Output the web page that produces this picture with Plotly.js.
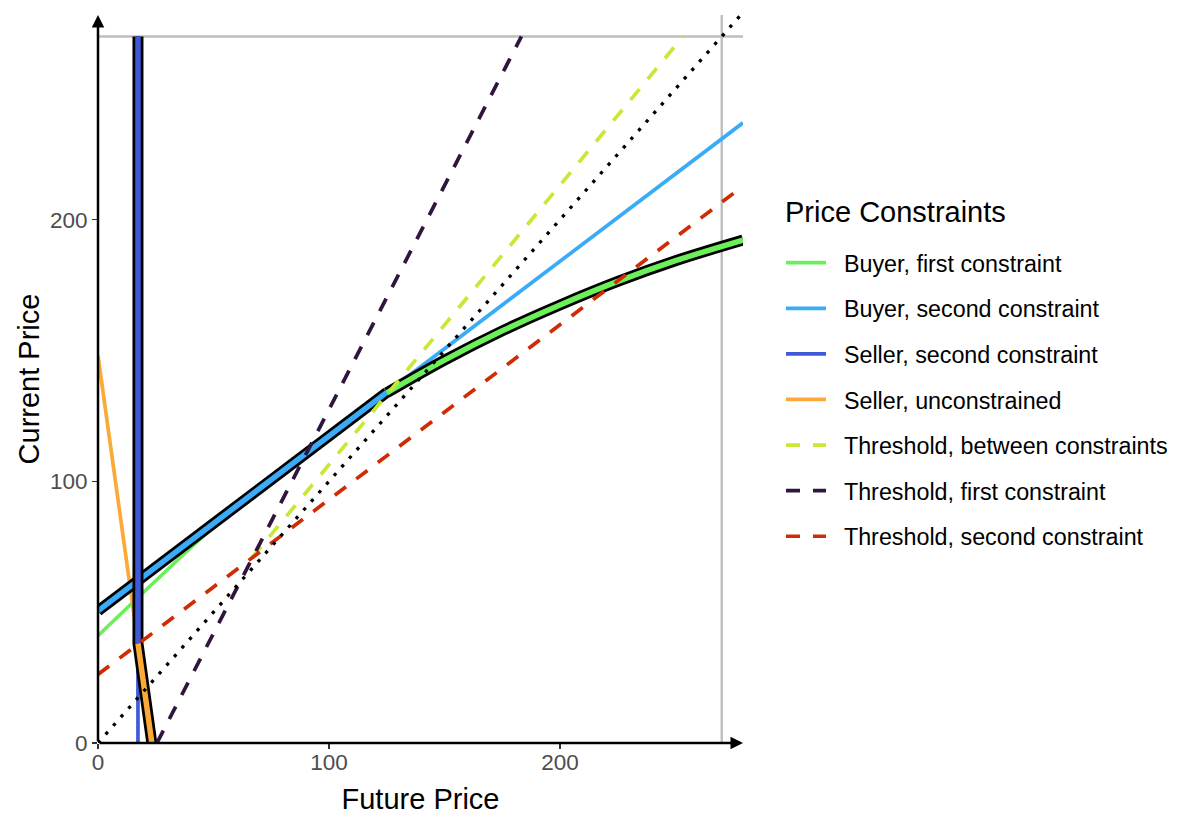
<!DOCTYPE html>
<html>
<head>
<meta charset="utf-8">
<script src="https://cdn.plot.ly/plotly-3.0.1.min.js"></script>
<style>html,body{margin:0;padding:0;background:#fff;}#chart{width:1181px;height:816px;}</style>
</head>
<body>
<div id="chart"></div>
<script>
// ---- data ----
const xMax = 279.2;
const yMax = 278.2;
const priceCap = 270;

const legendTitle = "Price Constraints";
const seriesNames = [
  "Buyer, first constraint",
  "Buyer, second constraint",
  "Seller, second constraint",
  "Seller, unconstrained",
  "Threshold, between constraints",
  "Threshold, first constraint",
  "Threshold, second constraint"
];
const seriesColors = ["#6CF05A", "#3AABF8", "#4059D6", "#FBAA38", "#C8E835", "#30153F", "#CF2B05"];

const buyerFirstX = [0, 25, 50, 75, 100, 125, 150, 175, 200, 225, 250, 279.2];
const buyerFirstY = [41, 62, 82.5, 100, 116.8, 133.8, 146.3, 157.5, 167.4, 176.4, 184.3, 192.2];

const buyerSecondX = [0, 279.2];
const buyerSecondY = [50.5, 237];

const sellerSecondX = [17.3, 17.3];
const sellerSecondY = [0, 270];

const sellerUnconX = [0, 23.3];
const sellerUnconY = [148, 0];

const thrBetweenX = [66.7, 253.2];
const thrBetweenY = [70.8, 270];

const thrFirstX = [25.5, 183.3];
const thrFirstY = [0, 270];

const thrSecondX = [0, 279.2];
const thrSecondY = [26.2, 212.8];

const diagX = [0, 279.2];
const diagY = [0, 279.2];

// highlighted (outlined) segments
const buyerOutBlueX = [0, 125];
const buyerOutBlueY = [50.5, 134];
const buyerOutGreenX = [125, 150, 175, 200, 225, 250, 279.2];
const buyerOutGreenY = [133.8, 146.3, 157.5, 167.4, 176.4, 184.3, 192.2];
const sellerOutBlueX = [17.3, 17.3];
const sellerOutBlueY = [270, 38.1];
const sellerOutOrangeX = [17.3, 23.3];
const sellerOutOrangeY = [38.1, 0];

const tickVals = [0, 100, 200];

// ---- traces ----
const baseW = 3.7, outW = 11, inW = 5.5;
const dashPat = "14px,13px";
const nameGap = "\u00A0\u00A0";
function line(x, y, color, width, opts) {
  return Object.assign({
    type: "scatter", mode: "lines", x: x, y: y,
    line: {color: color, width: width},
    hoverinfo: "skip", showlegend: false
  }, opts || {});
}
function legendLine(i, x, y) {
  return line(x, y, seriesColors[i], baseW, {showlegend: true, name: nameGap + seriesNames[i], legendgroup: "g" + i});
}

const gBase = legendLine(0, buyerFirstX, buyerFirstY); gBase.line.shape = "spline";
const gOutBlack = line(buyerOutGreenX, buyerOutGreenY, "#000000", outW); gOutBlack.line.shape = "spline";
const gOut = line(buyerOutGreenX, buyerOutGreenY, seriesColors[0], inW); gOut.line.shape = "spline";
const t1 = legendLine(4, thrBetweenX, thrBetweenY);
const t2 = legendLine(5, thrFirstX, thrFirstY);
const t3 = legendLine(6, thrSecondX, thrSecondY);
[t1, t2, t3].forEach(t => { t.line.dash = dashPat; });

const traces = [
  // gray cap lines
  line([0, xMax], [priceCap, priceCap], "#BEBEBE", 2.4),
  line([priceCap, priceCap], [0, yMax], "#BEBEBE", 2.4),
  // base constraint lines
  gBase,
  legendLine(1, buyerSecondX, buyerSecondY),
  legendLine(2, sellerSecondX, sellerSecondY),
  legendLine(3, sellerUnconX, sellerUnconY),
  // outlined segments
  line(buyerOutBlueX, buyerOutBlueY, "#000000", outW),
  gOutBlack,
  line(buyerOutBlueX, buyerOutBlueY, seriesColors[1], inW),
  gOut,
  line(sellerOutBlueX.concat(sellerOutOrangeX.slice(1)), sellerOutBlueY.concat(sellerOutOrangeY.slice(1)), "#000000", outW),
  line(sellerOutBlueX, sellerOutBlueY, seriesColors[2], inW),
  line(sellerOutOrangeX, sellerOutOrangeY, seriesColors[3], inW),
  // thresholds
  t1, t2, t3,
  // 45 degree line
  line(diagX, diagY, "#000000", 3.3, {line: {color: "#000000", width: 3.3, dash: "3.3px,8.2px"}})
];

const font = "Liberation Sans, Arial, Helvetica, sans-serif";

const layout = {
  width: 1181, height: 816,
  margin: {l: 98, r: 438, t: 15, b: 73, pad: 0, autoexpand: false},
  paper_bgcolor: "#ffffff", plot_bgcolor: "#ffffff",
  font: {family: font, color: "#000000"},
  showlegend: true,
  xaxis: {
    range: [0, xMax], tickvals: tickVals, ticks: "outside", ticklen: 5, tickwidth: 1.5, tickcolor: "#333333",
    tickfont: {size: 22.5, color: "#4D4D4D", family: font}, ticklabelstandoff: -6,
    showgrid: false, zeroline: false, showline: false, automargin: false,
    title: {text: "Future Price", font: {size: 29, color: "#000000", family: font}, standoff: 14}
  },
  yaxis: {
    range: [0, yMax], tickvals: tickVals, ticks: "outside", ticklen: 5, tickwidth: 1.5, tickcolor: "#333333",
    tickfont: {size: 22.5, color: "#4D4D4D", family: font},
    showgrid: false, zeroline: false, showline: false, automargin: false,
    title: {text: "Current Price", font: {size: 29, color: "#000000", family: font}, standoff: 1}
  },
  legend: {
    x: 1.0589, xanchor: "left", y: 0.6895, yanchor: "top",
    font: {size: 23.3, color: "#000000", family: font},
    tracegroupgap: 12.3, bgcolor: "rgba(0,0,0,0)", borderwidth: 0,
    itemwidth: 40
  },
  annotations: [
    {x: xMax, y: 0, ax: 0, ay: 0, xref: "x", yref: "y", axref: "x", ayref: "y", text: "",
     showarrow: true, arrowhead: 2, arrowsize: 1, arrowwidth: 2.5, arrowcolor: "#000000"},
    {x: 0, y: yMax, ax: 0, ay: 0, xref: "x", yref: "y", axref: "x", ayref: "y", text: "",
     showarrow: true, arrowhead: 2, arrowsize: 1, arrowwidth: 2.5, arrowcolor: "#000000"},
    {x: 1.062, y: 0.7294, xref: "paper", yref: "paper", xanchor: "left", yanchor: "middle",
     text: legendTitle, showarrow: false, font: {size: 29, color: "#000000", family: font}}
  ]
};

Plotly.newPlot("chart", traces, layout, {displayModeBar: false, staticPlot: true});
</script>
</body>
</html>
